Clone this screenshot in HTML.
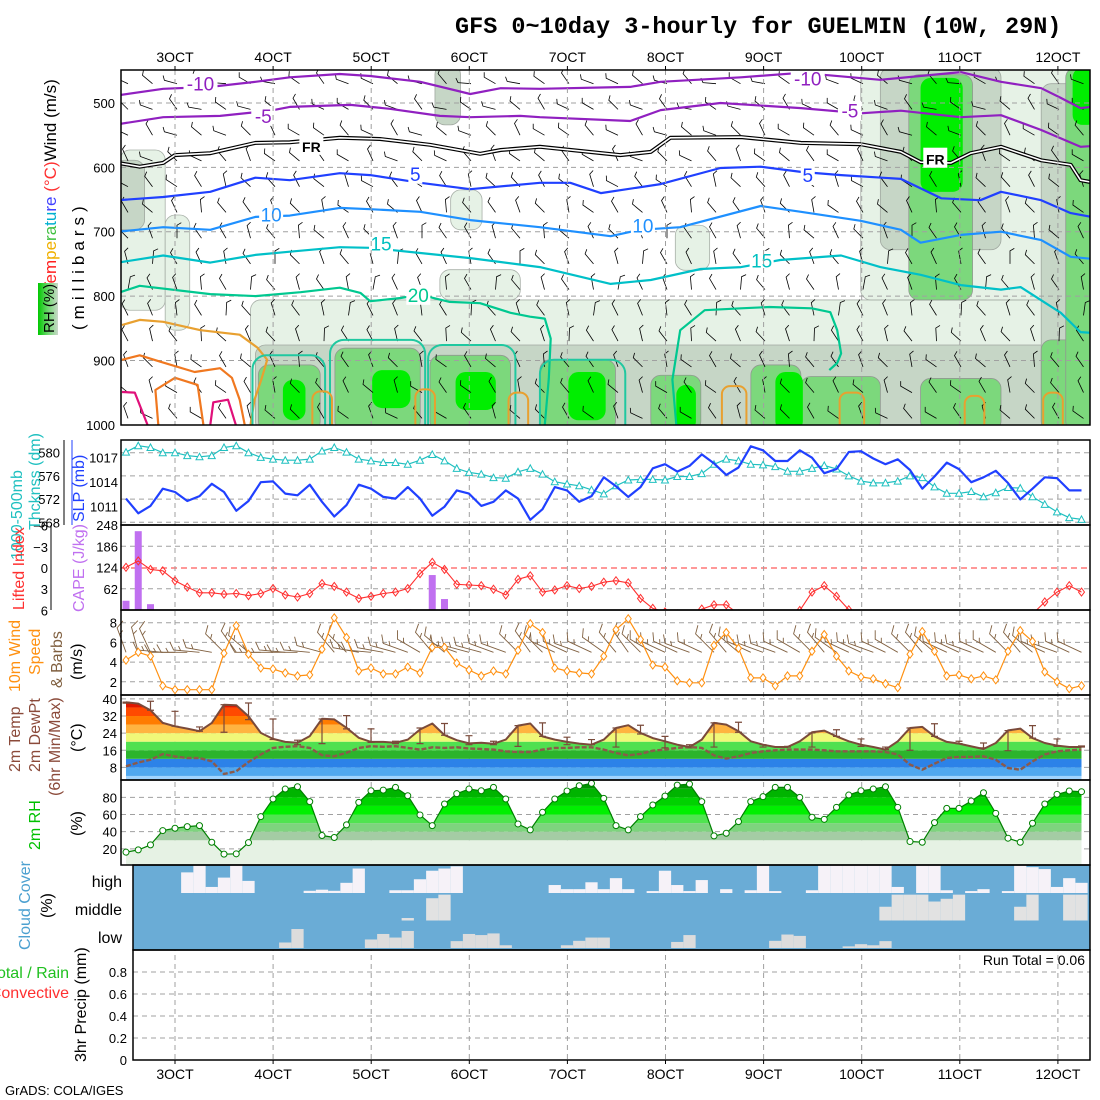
<!DOCTYPE html>
<html><head><meta charset="utf-8"><title>GFS meteogram GUELMIN</title>
<style>
html,body{margin:0;padding:0;background:#fff;}
svg{display:block;font-family:"Liberation Sans",sans-serif;}
.tk{font-size:13px;fill:#000;}
.lab{font-size:16px;}
</style></head>
<body>
<svg id="chart" xmlns="http://www.w3.org/2000/svg" width="1100" height="1100" viewBox="0 0 1100 1100">
<defs>
<clipPath id="cUp"><rect x="121" y="70" width="969" height="355"/></clipPath>
<clipPath id="cCape"><rect x="121" y="525" width="969" height="85"/></clipPath>
<clipPath id="cCld"><rect x="133" y="865" width="957" height="85"/></clipPath>
<clipPath id="cTemp"><path id="tempClipPath" d=""/></clipPath>
<clipPath id="cRH"><path id="rhClipPath" d=""/></clipPath>
<linearGradient id="rhLeg" x1="0" y1="0" x2="1" y2="0"><stop offset="0" stop-color="#00c800"/><stop offset="0.5" stop-color="#70d870"/><stop offset="1" stop-color="#c8d8c8"/></linearGradient>
</defs>
<rect x="0" y="0" width="1100" height="1100" fill="#fff"/>
<text x="455" y="33" style="font-family:'Liberation Mono',monospace;font-weight:bold;font-size:23.5px;">GFS 0~10day 3-hourly for GUELMIN (10W, 29N)</text>

<g id="upper" clip-path="url(#cUp)"></g>
<g id="grid"></g>
<g id="series"></g>
<g id="frames"></g>
<g id="axes"></g>

<g>
<text transform="translate(56,292) rotate(-90)" class="lab" style="font-size:17px"><tspan fill="#ff2020">Tem</tspan><tspan fill="#f0b000">pe</tspan><tspan fill="#40c040">ra</tspan><tspan fill="#00b0d0">tu</tspan><tspan fill="#4040ff">re</tspan><tspan fill="#ff3030"> (°C)</tspan><tspan fill="#000">Wind (m/s)</tspan></text>
<text transform="translate(84,330) rotate(-90)" class="lab" style="font-size:17px;letter-spacing:5px" fill="#000">(millibars)</text>
<rect x="38" y="283" width="20" height="52" fill="url(#rhLeg)"/>
<text transform="translate(54,333) rotate(-90)" style="font-size:15px" fill="#000">RH (%)</text>
</g>
<g>
<text transform="translate(22,560) rotate(-90)" class="lab" fill="#20c0c0">1000-500mb</text>
<text transform="translate(40,530) rotate(-90)" class="lab" fill="#20c0c0">Thcknss (dm)</text>
<text transform="translate(84,522) rotate(-90)" class="lab" fill="#2040ff">SLP (mb)</text>
</g>
<g>
<text transform="translate(24,610) rotate(-90)" class="lab" fill="#ff3030">Lifted Index</text>
<text transform="translate(84,612) rotate(-90)" class="lab" fill="#c070f0">CAPE (J/kg)</text>
</g>
<g>
<text transform="translate(20,692) rotate(-90)" class="lab" fill="#ff9010">10m Wind</text>
<text transform="translate(40,675) rotate(-90)" class="lab" fill="#ff9010">Speed</text>
<text transform="translate(62,688) rotate(-90)" class="lab" fill="#806040">&amp; Barbs</text>
<text transform="translate(82,680) rotate(-90)" class="lab" fill="#000">(m/s)</text>
</g>
<g>
<text transform="translate(20,772) rotate(-90)" class="lab" fill="#8b4a3a">2m Temp</text>
<text transform="translate(40,772) rotate(-90)" class="lab" fill="#8b4a3a">2m DewPt</text>
<text transform="translate(60,796) rotate(-90)" class="lab" fill="#8b4a3a">(6hr Min/Max)</text>
<text transform="translate(82,752) rotate(-90)" class="lab" fill="#000">(°C)</text>
</g>
<g>
<text transform="translate(40,850) rotate(-90)" class="lab" fill="#00c000">2m RH</text>
<text transform="translate(82,836) rotate(-90)" class="lab" fill="#000">(%)</text>
</g>
<g>
<text transform="translate(30,950) rotate(-90)" class="lab" fill="#4ba0d0">Cloud Cover</text>
<text transform="translate(52,918) rotate(-90)" class="lab" fill="#000">(%)</text>
<text x="122" y="887" text-anchor="end" style="font-size:16px">high</text>
<text x="122" y="915" text-anchor="end" style="font-size:16px">middle</text>
<text x="122" y="943" text-anchor="end" style="font-size:16px">low</text>
</g>
<g>
<text x="69" y="978" text-anchor="end" class="lab" fill="#20c020">Total / Rain</text>
<text x="69" y="998" text-anchor="end" class="lab" fill="#ff3030">Convective</text>
<text transform="translate(86,1062) rotate(-90)" class="lab" fill="#000">3hr Precip (mm)</text>
<text x="1085" y="965" text-anchor="end" style="font-size:14px">Run Total = 0.06</text>
</g>
<text x="5" y="1095" style="font-size:13px">GrADS: COLA/IGES</text>
</svg>

<script>
// ===== data =====
const dayTicks = ['3OCT','4OCT','5OCT','6OCT','7OCT','8OCT','9OCT','10OCT','11OCT','12OCT'];
const upperLevels = [500,600,700,800,900,1000];
const thickTicks = [580,576,572,568];
const slpTicks = [1017,1014,1011];
const liTicks = [-6,-3,0,3,6];
const capeTicks = [248,186,124,62];
const windTicks = [2,4,6,8];
const tempTicks = [8,16,24,32,40];
const rhTicks = [20,40,60,80];
const precipTicks = [0,0.2,0.4,0.6,0.8];

const thickness = [580.1,581.2,580.9,580.0,580.0,579.5,579.3,579.5,580.9,581.2,580.0,579.2,578.9,578.7,578.7,578.9,580.3,580.9,580.1,578.9,578.6,578.3,578.3,578.0,578.7,579.7,578.6,577.3,576.6,576.3,575.7,575.6,576.7,577.3,
576.3,575.0,574.6,574.3,573.6,572.9,574.3,575.3,575.4,575.4,575.3,575.9,575.9,576.4,578.0,578.9,578.6,578.0,577.9,577.6,576.8,576.8,577.3,577.8,577.2,576.0,575.1,574.8,574.8,575.1,576.0,575.7,574.1,573.0,573.0,573.3,572.4,573.1,574.0,573.9,572.4,571.1,569.8,568.8,568.5];
const slp = [1012.0,1010.2,1011.1,1013.2,1012.8,1011.7,1012.3,1013.8,1012.8,1010.5,1011.7,1014.0,1014.1,1012.6,1012.4,1013.7,1011.6,1009.8,1011.2,1013.7,1013.2,1012.2,1012.0,1013.4,1012.0,1009.9,1011.0,1013.0,1012.6,1011.1,1011.6,1013.0,1012.0,1009.4,
1010.7,1013.4,1013.0,1011.6,1012.3,1014.6,1013.5,1012.2,1013.4,1015.7,1016.2,1015.3,1016.0,1017.4,1016.3,1014.9,1015.8,1018.4,1017.9,1016.6,1016.6,1017.9,1017.0,1015.1,1015.6,1017.7,1017.8,1016.9,1016.2,1016.8,1015.5,1013.2,1014.7,1016.4,1015.6,1014.0,1014.6,1015.4,1013.9,1011.9,1013.2,1014.6,1014.5,1013.0,1013.0];
const liftedIndex = [-0.1,-1.0,0.2,0.4,1.8,2.7,3.5,3.5,3.7,3.6,3.9,3.6,2.9,3.8,4.1,3.6,2.2,2.6,3.4,4.3,4.0,3.6,3.4,2.9,0.8,-0.8,0.2,2.3,2.4,2.5,3.0,3.8,1.6,1.1,3.4,3.1,
2.5,2.9,2.6,2.0,1.8,2.1,4.3,5.7,6.2,6.5,7,5.8,5.2,5.2,6.5,8,8,8,8,6.0,3.4,2.5,4.0,5.9,7,8,8,8,8,8,8,8,8,8,8,8,8,8,6.5,4.8,3.4,2.5,3.4];
const cape = [27,230,17,0,0,0,0,0,0,0,0,0,0,0,0,0,0,0,0,0,0,0,0,2,0,102,32,0,0,0,0,0,0,0,0,0,0,0,0,0,0,0,0,0,0,0,0,0,0,0,0,0,0,0,0,0,0,0,0,0,0,0,0,0,0,0,0,0,0,0,0,0,0,0,0,0,0,0,0];
const windSpeed = [4.2,5.0,4.6,1.6,1.2,1.2,1.2,1.2,4.9,7.7,4.8,3.4,3.3,2.9,2.6,2.7,5.3,8.5,6.5,3.1,3.4,2.8,2.8,3.5,2.9,5.5,5.5,3.9,3.2,2.6,3.1,2.8,5.2,7.9,
7.0,3.4,3.1,2.9,2.8,4.6,7.3,8.4,6.3,3.7,3.5,2.1,1.9,1.9,5.7,7.0,5.4,2.4,2.4,1.6,2.6,2.6,5.1,6.8,4.6,3.1,2.5,2.3,1.8,1.4,4.8,7.1,5.1,2.6,2.7,2.3,2.6,2.2,5.1,7.2,6.1,3.0,2.0,1.3,1.6];
const windDir = [250,255,245,185,180,180,185,190,225,235,220,180,180,185,180,185,195,230,225,190,185,190,195,200,210,230,220,200,195,195,200,200,225,235,
225,205,205,200,205,215,230,235,225,210,205,205,200,205,225,230,220,205,200,200,205,210,225,230,215,205,205,200,205,210,225,230,220,205,205,200,205,210,225,230,220,205,200,205,205];
const temp2m = [38.4,37.8,34.7,28.8,27.2,26.1,24.9,28.8,37.3,37.0,31.9,24.1,21.3,19.9,19.5,22.6,30.7,30.4,26.5,21.8,19.9,19.9,19.5,21.0,25.7,28.5,23.1,20.7,19.2,19.5,19.0,21.0,27.5,28.5,
22.5,21.0,19.9,19.1,18.6,21.0,26.4,27.7,24.1,21.7,20.2,18.6,17.5,21.0,28.8,28.0,24.9,20.2,18.6,17.5,17.5,20.2,24.4,25.2,22.5,20.2,18.6,17.5,16.3,20.2,26.4,26.9,22.5,19.9,19.1,17.8,16.6,19.4,25.3,26.1,21.7,19.4,18.2,17.5,17.5];
const dew2m = [8.5,10.3,11.6,14.2,13.1,12.4,12.4,10.8,4.9,6.2,10.5,14.0,17.1,17.6,17.9,17.1,13.7,13.2,14.8,17.1,17.9,17.6,17.9,17.1,16.3,17.4,17.1,17.4,16.8,16.6,16.3,15.5,15.2,15.2,
16.3,17.1,17.1,17.4,17.4,16.3,14.7,13.6,14.3,15.8,16.3,17.1,17.5,17.1,13.6,12.1,13.2,14.7,15.5,16.0,16.3,16.3,16.3,16.0,15.5,15.5,15.5,15.5,15.2,14.0,9.3,6.9,9.7,12.4,12.9,12.9,13.2,11.6,7.7,6.9,10.8,14.0,15.5,16.0,16.3];
const tmax6 = [38.5,38.9,34.2,26.9,37.3,38.1,30.6,20.7,30.6,32.2,26.0,20.2,26.4,28.5,22.8,20.2,27.5,28.8,22.1,21.0,26.4,27.7,22.5,18.6,28.8,29.1,18.6,17.8,24.1,25.6,21.3,17.5,26.4,28.4,20.2,19.4,25.2,27.5,21.3,18.0];
const tmin6 = [38.0,34.7,27.2,24.9,24.4,30.3,21.0,18.6,19.1,26.0,19.7,19.1,19.1,23.0,18.6,18.6,17.8,22.5,18.6,18.6,17.5,23.6,17.1,17.1,17.5,24.4,17.5,17.5,17.5,22.5,17.8,16.3,16.0,22.5,19.1,17.1,15.8,21.7,17.8,17.5];
const rh2m = [16.1,18.8,24.6,41.3,44.0,45.9,47.1,27.7,13.8,14.2,27.3,57.5,78.1,89.7,92.4,75.0,35.5,33.2,47.9,74.2,87.7,88.5,91.6,81.9,59.5,47.1,72.3,84.3,89.7,87.7,91.6,78.1,49.0,42.1,
62.6,78.1,87.4,93.5,96.3,78.8,47.1,42.1,57.5,71.1,81.5,94.3,95.5,75.0,35.1,38.2,51.7,75.0,80.8,91.6,91.6,80.0,56.8,54.4,68.4,82.7,87.7,89.7,92.4,68.4,28.5,27.7,50.6,67.2,67.2,75.7,85.4,61.4,32.4,27.7,49.8,72.3,83.5,87.4,86.6];
const cloudHigh = [0,0,0,0,0,75,100,22,56,100,44,0,0,0,0,8,12,8,37,89,0,0,10,10,50,81,89,97,0,0,0,0,0,0,0,29,14,14,39,14,54,14,0,7,81,29,7,47,0,14,0,10,100,7,0,0,10,100,100,100,100,100,100,22,0,100,100,10,0,7,14,0,7,100,94,87,22,54,37];
const cloudMid = [0,0,0,0,0,0,0,0,0,0,0,0,0,0,0,0,0,0,0,0,0,0,0,9,0,81,94,0,0,0,0,0,0,0,0,0,0,0,0,0,0,0,0,0,0,0,0,0,0,0,0,0,0,0,0,0,0,0,0,0,0,0,50,94,94,94,69,79,94,0,0,0,0,50,94,0,0,94,94];
const cloudLow = [0,0,0,0,0,0,0,0,0,0,0,0,0,20,69,0,0,0,0,0,31,51,38,62,0,0,0,25,51,47,53,10,0,0,0,0,10,26,38,38,0,0,0,0,0,22,47,0,0,0,0,0,0,26,49,44,0,0,0,6,14,10,25,0,0,0,0,0,0,0,0,0,0,0,0,0,0,0,0];
const precipTotal = [];

const isoM10 = [[2.42,488],[2.88,478],[3.36,475],[3.82,467],[4.17,460],[4.68,455],[4.99,458],[5.50,467],[6.01,486],[6.32,477],[6.72,478],[7.64,475],[7.95,467],[8.77,460],[9.38,453],[10.19,464],[11.01,452],[11.42,467],[11.83,477],[12.03,492],[12.23,508],[12.34,506]];
const isoM5 = [[2.42,533],[2.88,522],[3.46,520],[3.97,512],[4.17,506],[4.79,503],[5.19,509],[5.70,520],[6.01,522],[6.52,520],[6.72,522],[7.64,528],[7.95,511],[8.56,500],[9.38,508],[9.99,516],[10.40,512],[11.01,522],[11.42,519],[11.83,542],[12.23,568],[12.34,567]];
const isoFR = [[2.42,593],[2.64,599],[2.88,593],[3.00,581],[3.36,578],[3.82,562],[4.17,561],[4.68,554],[5.09,556],[5.60,565],[6.11,579],[6.32,573],[6.72,568],[7.54,581],[7.85,576],[8.05,554],[8.77,553],[9.38,562],[9.99,564],[10.40,576],[10.60,592],[10.91,593],[11.11,578],[11.42,568],[11.83,589],[12.13,596],[12.23,620],[12.34,623]];
const isoP5 = [[2.42,651],[2.88,646],[3.36,638],[3.82,616],[4.17,620],[4.68,609],[4.99,612],[5.50,624],[6.01,634],[6.72,624],[7.03,624],[7.34,640],[7.95,626],[8.56,601],[8.97,599],[9.38,607],[9.79,612],[10.40,618],[10.81,648],[11.21,651],[11.42,638],[11.83,651],[12.13,671],[12.34,677]];
const isoP10 = [[2.42,700],[2.88,693],[3.36,697],[3.82,677],[4.17,675],[4.68,663],[4.99,665],[5.50,669],[6.01,682],[6.72,693],[7.44,707],[7.74,697],[8.15,693],[8.97,660],[9.38,669],[9.99,683],[10.40,697],[10.60,717],[11.01,705],[11.42,700],[11.83,713],[12.13,739],[12.34,742]];
const isoP15 = [[2.42,748],[2.88,737],[3.36,748],[3.82,736],[4.17,731],[4.68,724],[4.99,725],[5.50,733],[6.01,741],[6.72,755],[7.44,781],[7.85,775],[8.36,758],[8.77,755],[9.17,744],[9.79,737],[10.19,755],[10.60,767],[11.01,783],[11.42,790],[11.62,786],[12.03,826],[12.23,856],[12.34,857]];
const isoP20a = [[2.42,795],[2.64,784],[3.36,797],[3.82,800],[4.28,794],[4.68,787],[4.89,795],[4.99,808],[5.30,803],[5.50,798],[5.80,809],[6.11,811],[6.42,826],[6.62,832],[6.77,835],[6.83,866],[6.81,928],[6.77,1000]];
const isoP20b = [[8.11,1000],[8.07,930],[8.15,853],[8.40,822],[8.77,819],[9.06,817],[9.49,819],[9.68,825],[9.75,853],[9.79,889],[9.75,904],[9.67,915]];
const isoO25 = [[2.46,845],[2.64,837],[2.88,840],[3.26,853],[3.66,860],[3.84,880],[3.94,899],[3.88,930],[3.81,961],[3.77,1000]];
const isoO30 = [[2.46,899],[2.64,892],[2.85,902],[3.20,918],[3.46,912],[3.58,927],[3.66,961],[3.71,1000]];
const isoO30b = [[2.83,1000],[2.80,946],[3.00,927],[3.23,938],[3.29,1000]];
const isoM35 = [[2.46,949],[2.59,950],[2.72,1000]];
const isoM35b = [[3.36,1000],[3.39,965],[3.54,961],[3.62,1000]];
const smallOrange = [[4.50,0.20,948],[5.55,0.20,945],[6.50,0.20,950],[8.70,0.25,940],[9.90,0.25,950],[11.15,0.2,955],[11.95,0.2,950]];
const rhLight = [[3.77,12.40,806,1010],[5.70,6.52,759,806],[9.99,12.40,445,806],[2.44,2.90,573,822],[2.90,3.15,674,853],[5.81,6.13,635,697],[8.10,8.45,690,760]];
const rhGrey = [[3.82,12.40,876,1010],[2.38,2.69,589,697],[5.65,5.91,440,534],[10.19,11.42,445,728],[11.83,12.40,470,1010]];
const rhMed = [[3.85,4.48,907,1010],[4.63,5.50,881,1010],[5.60,6.42,892,1010],[6.72,7.49,899,1010],[7.85,8.36,923,1010],[8.87,9.38,907,1010],[9.38,10.19,925,1010],[10.60,11.42,928,1010],[11.83,12.40,868,1010],[10.48,11.13,456,806],[12.08,12.40,445,1010]];
const rhBright = [[4.10,4.33,930,993],[5.01,5.40,915,974],[5.86,6.27,918,977],[7.01,7.39,918,993],[8.11,8.31,938,1010],[9.12,9.40,918,1010],[10.60,11.03,461,638],[12.15,12.40,445,534]];
const tealLoops = [[3.79,4.53,892],[4.58,5.55,868],[5.58,6.47,876],[6.72,7.59,899]];
const contourLabels = [['-10',3.26,470,'#9020c0'],['-5',3.90,520,'#9020c0'],['FR',4.39,565,'#000'],['5',5.45,610,'#2040ff'],['10',3.98,673,'#1e90ff'],['15',5.10,718,'#00c0c0'],['20',5.48,798,'#00c890'],['-10',9.45,462,'#9020c0'],['-5',9.88,512,'#9020c0'],['FR',10.75,585,'#000'],['5',9.45,612,'#2040ff'],['10',7.77,690,'#1e90ff'],['15',8.98,745,'#00c0c0']];
const barbLevels = [470,510,550,590,630,670,710,750,790,830,870,910,950,990];
const barbRowAng = [205,210,215,220,228,235,240,245,250,248,242,235,230,225];
const barbJitter = [0,15,-10,25,-20,5,-15,10,30,-5];

// ===== scales =====
const X = i => 126 + i*12.25;
const DX = d => 175 + (d-3)*98.1;
const yP = p => 103 + (p-500)*0.6436;
const yTh = t => 452.7 + (580-t)*5.8;
const ySLP = s => 457.7 + (1017-s)*8.17;
const yLI = v => 568 + v*7.08;
const yCape = c => 610 - c*0.3427;
const yW = s => 701.5 - s*9.85;
const yT = t => 784.5 - t*2.14;
const yR = r => 866 - r*0.858;
const yPr = v => 1060 - v*110;

const NS = 'http://www.w3.org/2000/svg';
function mk(tag, attrs, parent){ const e=document.createElementNS(NS,tag); for(const k in attrs) e.setAttribute(k,attrs[k]); parent.appendChild(e); return e; }
const G = id => document.getElementById(id);
const up = G('upper'), grid = G('grid'), ser = G('series'), frames = G('frames'), axes = G('axes');
const pts = (arr, fy) => arr.map((v,i)=>X(i).toFixed(1)+','+fy(v).toFixed(1)).join(' ');
const cpts = arr => arr.map(q=>DX(q[0]).toFixed(1)+','+yP(q[1]).toFixed(1)).join(' ');

function blobs(list, fill, stroke, name){
  list.forEach(b=>{
    const x0=DX(b[0]), x1=DX(b[1]), y0=yP(b[2]), y1=yP(b[3]);
    const r = mk('rect',{x:x0,y:y0,width:x1-x0,height:y1-y0,rx:Math.min(10,(x1-x0)/2),fill:fill,stroke:stroke,'stroke-width':0.8}, up);
    
    
  });
}
blobs(rhLight,'#e6f2e6','#a8b0a8','rh-shade-light');
blobs(rhGrey,'#c6d6c6','#a0a8a0','rh-shade-grey');
blobs(rhMed,'#7cd87c','#909890','rh-shade-green');
blobs(rhBright,'#00ee00','none','rh-shade-bright');

upperLevels.forEach(p=>{ if(p<1000){ const l=mk('line',{x1:121,x2:1090,y1:yP(p),y2:yP(p),stroke:'#a0a0a0','stroke-dasharray':'5,4','stroke-width':1},up);
  
   }});

barbLevels.forEach((p,r)=>{
  for(let c=0;c<40;c++){
    const x = X(c*2)+2, y = yP(p);
    const a = (barbRowAng[r] + barbJitter[(c+r)%10])*Math.PI/180;
    const ex = x + 13*Math.cos(a), ey = y + 13*Math.sin(a);
    const fa = a + Math.PI/3;
    const g = mk('path',{d:`M${x.toFixed(1)},${y.toFixed(1)}L${ex.toFixed(1)},${ey.toFixed(1)}l${(5*Math.cos(fa)).toFixed(1)},${(5*Math.sin(fa)).toFixed(1)}`,stroke:'#000','stroke-width':0.8,fill:'none'},up);
    
    
  }
});

function cline(arr, color, w, name){
  const l = mk('polyline',{points:cpts(arr),fill:'none',stroke:color,'stroke-width':w,'stroke-linejoin':'round'},up);
  
  
}
cline(isoM10,'#9020c0',2.2,'isotherm-minus10');
cline(isoM5,'#9020c0',2.2,'isotherm-minus5');
cline(isoFR,'#000',4,'freezing-level-outer');
cline(isoFR,'#fff',1.6,'freezing-level-inner');
cline(isoP5,'#2040ff',2.2,'isotherm-5');
cline(isoP10,'#1e90ff',2.2,'isotherm-10');
cline(isoP15,'#00c0c8',2.2,'isotherm-15');
cline(isoP20a,'#00c890',2.2,'isotherm-20');
cline(isoP20b,'#00c890',2.2,'isotherm-20-east');
cline(isoO25,'#e8a030',2.2,'isotherm-25');
cline(isoO30,'#f07820',2.2,'isotherm-30');
cline(isoO30b,'#f07820',2.2,'isotherm-30-loop');
cline(isoM35,'#e0107a',2.2,'isotherm-35');
cline(isoM35b,'#e0107a',2.2,'isotherm-35-loop');
tealLoops.forEach(t=>{
  const x0=DX(t[0]),x1=DX(t[1]),y0=yP(t[2]);
  const r=mk('rect',{x:x0,y:y0,width:x1-x0,height:440-y0,rx:14,fill:'none',stroke:'#20c8a0','stroke-width':2},up);
  
  
});
smallOrange.forEach(s=>{
  const x0=DX(s[0]-s[1]/2), x1=DX(s[0]+s[1]/2), y0=yP(s[2]);
  const r=mk('rect',{x:x0,y:y0,width:x1-x0,height:440-y0,rx:8,fill:'none',stroke:'#e8a030','stroke-width':2},up);
  
  
});
contourLabels.forEach(c=>{
  const x=DX(c[1]), y=yP(c[2]);
  const w = c[0].length*10+4;
  const bg=mk('rect',{x:x-w/2,y:y-10,width:w,height:20,fill:'#fff'},up);
  
  
  const t=mk('text',{x:x,y:y+7,'text-anchor':'middle',fill:c[3],'font-size':c[0]==='FR'?'14':'19','font-weight':c[0]==='FR'?'bold':'normal'},up);
  t.textContent=c[0];
  
  
});

let td = `M${X(0)},780 ` + temp2m.map((v,i)=>`L${X(i).toFixed(1)},${yT(v).toFixed(1)}`).join(' ') + ` L${X(temp2m.length-1)},780 Z`;
G('tempClipPath').setAttribute('d', td);
const tBands = [[0,4,'#a0d4ff'],[4,8,'#50a8f0'],[8,12,'#2c82e8'],[12,16,'#2cb42c'],[16,20,'#50e050'],[20,24,'#f0f878'],[24,28,'#ffb440'],[28,32,'#ff7c00'],[32,36,'#ff4a00'],[36,40,'#e01800'],[40,50,'#a00000']];
const tg = mk('g',{'clip-path':'url(#cTemp)'},ser);


tBands.forEach(b=>{ const y0=Math.max(695,yT(b[1])), y1=Math.min(780,yT(b[0])); if(y1>y0){
  const r=mk('rect',{x:121,y:y0,width:969,height:y1-y0,fill:b[2]},tg);
  
   }});

let rd = `M${X(0)},865 ` + rh2m.map((v,i)=>`L${X(i).toFixed(1)},${yR(v).toFixed(1)}`).join(' ') + ` L${X(rh2m.length-1)},865 Z`;
G('rhClipPath').setAttribute('d', rd);
const rBands = [[0,30,'#e6f2e4'],[30,40,'#a4cca4'],[40,50,'#7ed47e'],[50,60,'#50e450'],[60,70,'#00f000'],[70,80,'#00d200'],[80,90,'#00b400'],[90,100,'#009400']];
const rg = mk('g',{'clip-path':'url(#cRH)'},ser);


rBands.forEach(b=>{ const r=mk('rect',{x:121,y:yR(b[1]),width:969,height:yR(b[0])-yR(b[1]),fill:b[2]},rg);
  
   });

const cg = mk('g',{'clip-path':'url(#cCld)'},ser);


const cbg = mk('rect',{x:133,y:865,width:957,height:85,fill:'#6aacd6'},cg);


[[cloudHigh,893,'#f6f2f8','cloud-high-bar'],[cloudMid,920.5,'#e2e2e2','cloud-middle-bar'],[cloudLow,948,'#dcdcdc','cloud-low-bar']].forEach(row=>{
  row[0].forEach((v,i)=>{ if(v>0){ const h=v/100*27.5;
    const r=mk('rect',{x:X(i)-6.125,y:row[1]-h,width:12.25,height:h,fill:row[2]},cg);
    
     }});
});

function hline(y,x0,name,color,dash){ const l=mk('line',{x1:x0,x2:1090,y1:y,y2:y,stroke:color||'#a0a0a0','stroke-width':1,'stroke-dasharray':dash||'5,4'},grid);
  
   }
thickTicks.forEach(t=>hline(yTh(t),121,'slp-gridline'));
capeTicks.forEach(c=>{ if(c!==124) hline(yCape(c),121,'cape-gridline'); });
windTicks.forEach(s=>hline(yW(s),121,'wind-gridline'));
tempTicks.forEach(t=>hline(yT(t),121,'temp-gridline'));
rhTicks.forEach(r=>hline(yR(r),121,'rh-gridline'));
[893,920.5,948].forEach(y=>hline(y,133,'cloud-gridline'));
precipTicks.forEach(v=>{ if(v>0) hline(yPr(v),133,'precip-gridline'); });
hline(yLI(0),121,'li-zero-line','#ff3030','6,4');
dayTicks.forEach((d,k)=>{
  const x = DX(3+k);
  [[70,425],[440,865],[865,1060]].forEach(s=>{
    const l=mk('line',{x1:x,x2:x,y1:s[0],y2:s[1],stroke:'#a0a0a0','stroke-width':1,'stroke-dasharray':'5,4'},grid);
    
    
  });
});

function line(arr,fy,color,w,name,parent){ const l=mk('polyline',{points:pts(arr,fy),fill:'none',stroke:color,'stroke-width':w,'stroke-linejoin':'round'},parent||ser);
  
   return l; }
line(thickness,yTh,'#20c0c0',1.2,'thickness-line');
thickness.forEach((v,i)=>{ const x=X(i),y=yTh(v);
  const m=mk('path',{d:`M${x-3.5},${y+3}L${x},${y-3.5}L${x+3.5},${y+3}Z`,fill:'#fff',stroke:'#20c0c0','stroke-width':1},ser);
  
   });
line(slp,ySLP,'#2040ff',2.2,'slp-line');
const capeG = mk('g',{'clip-path':'url(#cCape)'},ser);


cape.forEach((v,i)=>{ if(v>0){ const r=mk('rect',{x:X(i)-3.5,y:yCape(v),width:7,height:610-yCape(v),fill:'#c070f0'},capeG);
  
   }});
line(liftedIndex,yLI,'#ff3030',1.1,'lifted-index-line',capeG);
liftedIndex.forEach((v,i)=>{ const x=X(i),y=yLI(v);
  const m=mk('path',{d:`M${x},${y-4}L${x+3},${y}L${x},${y+4}L${x-3},${y}Z`,fill:'none',stroke:'#ff3030','stroke-width':1},capeG);
  
   });
windDir.forEach((a,i)=>{ const x=X(i), y=yW(5), r=a*Math.PI/180;
  const ex=x+26*Math.cos(r), ey=y+26*Math.sin(r), fa=r+Math.PI/3;
  const b=mk('path',{d:`M${x.toFixed(1)},${y.toFixed(1)}L${ex.toFixed(1)},${ey.toFixed(1)}l${(9*Math.cos(fa)).toFixed(1)},${(9*Math.sin(fa)).toFixed(1)}M${(x+19*Math.cos(r)).toFixed(1)},${(y+19*Math.sin(r)).toFixed(1)}l${(5*Math.cos(fa)).toFixed(1)},${(5*Math.sin(fa)).toFixed(1)}`,fill:'none',stroke:'#806040','stroke-width':0.9},ser);
  
   });
line(windSpeed,yW,'#ff9010',1.2,'wind-speed-line');
windSpeed.forEach((v,i)=>{ const x=X(i),y=yW(v);
  const m=mk('path',{d:`M${x},${y-4}L${x+3},${y}L${x},${y+4}L${x-3},${y}Z`,fill:'#fff',stroke:'#ff9010','stroke-width':1},ser);
  
   });
tmax6.forEach((v,k)=>{ const x=X(k*2), y0=yT(v), y1=yT(tmin6[k]);
  const b=mk('path',{d:`M${x},${y0}L${x},${y1}M${x-3.5},${y0}L${x+3.5},${y0}M${x-3.5},${y1}L${x+3.5},${y1}`,stroke:'#7a4a3a','stroke-width':1.2,fill:'none'},ser);
  
   });
line(dew2m,yT,'#8b5a4a',2.4,'dewpoint-line').setAttribute('stroke-dasharray','5,2');
line(temp2m,yT,'#7a4a3a',2,'temp-line');
line(rh2m,yR,'#008000',1.2,'rh-line');
rh2m.forEach((v,i)=>{ const c=mk('circle',{cx:X(i),cy:yR(v),r:3,fill:'#fff',stroke:'#008000','stroke-width':1},ser);
  
   });

[[121,70,969,355,'upper-frame'],[121,440,969,85,'slp-frame'],[121,525,969,85,'cape-frame'],[121,610,969,85,'wind-frame'],[121,695,969,85,'temp-frame'],[121,780,969,85,'rh-frame'],[133,865,957,85,'cloud-frame'],[133,950,957,110,'precip-frame']].forEach(f=>{
  const r=mk('rect',{x:f[0],y:f[1],width:f[2],height:f[3],fill:'none',stroke:'#000','stroke-width':1.5},frames);
  
   });

function txt(x,y,s,anchor,name,color,size){ const t=mk('text',{x:x,y:y,'text-anchor':anchor,fill:color||'#000','font-size':size||13},axes); t.textContent=s;
  
   }
dayTicks.forEach((d,k)=>{ const x=DX(3+k); txt(x,62,d,'middle','top-date-label','#000',14); txt(x,1079,d,'middle','bottom-date-label','#000',14);
  const t1=mk('line',{x1:x,x2:x,y1:66,y2:70,stroke:'#000'},axes);  
  const t2=mk('line',{x1:x,x2:x,y1:1060,y2:1064,stroke:'#000'},axes);   });
upperLevels.forEach(p=>txt(115,yP(p)+5,String(p),'end','pressure-tick-label'));
thickTicks.forEach(t=>txt(60,yTh(t)+5,String(t),'end','thickness-tick-label'));
slpTicks.forEach(s=>txt(118,ySLP(s)+5,String(s),'end','slp-tick-label'));
liTicks.forEach(v=>txt(48,yLI(v)+5,v<0?'\u2212'+(-v):String(v),'end','li-tick-label'));
capeTicks.forEach(c=>txt(118,yCape(c)+5,String(c),'end','cape-tick-label'));
windTicks.forEach(s=>txt(117,yW(s)+5,String(s),'end','wind-tick-label'));
tempTicks.forEach(t=>txt(117,yT(t)+5,String(t),'end','temp-tick-label'));
rhTicks.forEach(r=>txt(117,yR(r)+5,String(r),'end','rh-tick-label'));
precipTicks.forEach(v=>txt(127,yPr(v)+5,String(v),'end','precip-tick-label'));
const liAxis=mk('line',{x1:51,x2:51,y1:525,y2:610,stroke:'#000'},axes);


const thAxis=mk('line',{x1:64,x2:64,y1:440,y2:525,stroke:'#000'},axes);


const slpAxis=mk('line',{x1:72,x2:72,y1:440,y2:525,stroke:'#2040ff'},axes);


</script>
</body></html>
